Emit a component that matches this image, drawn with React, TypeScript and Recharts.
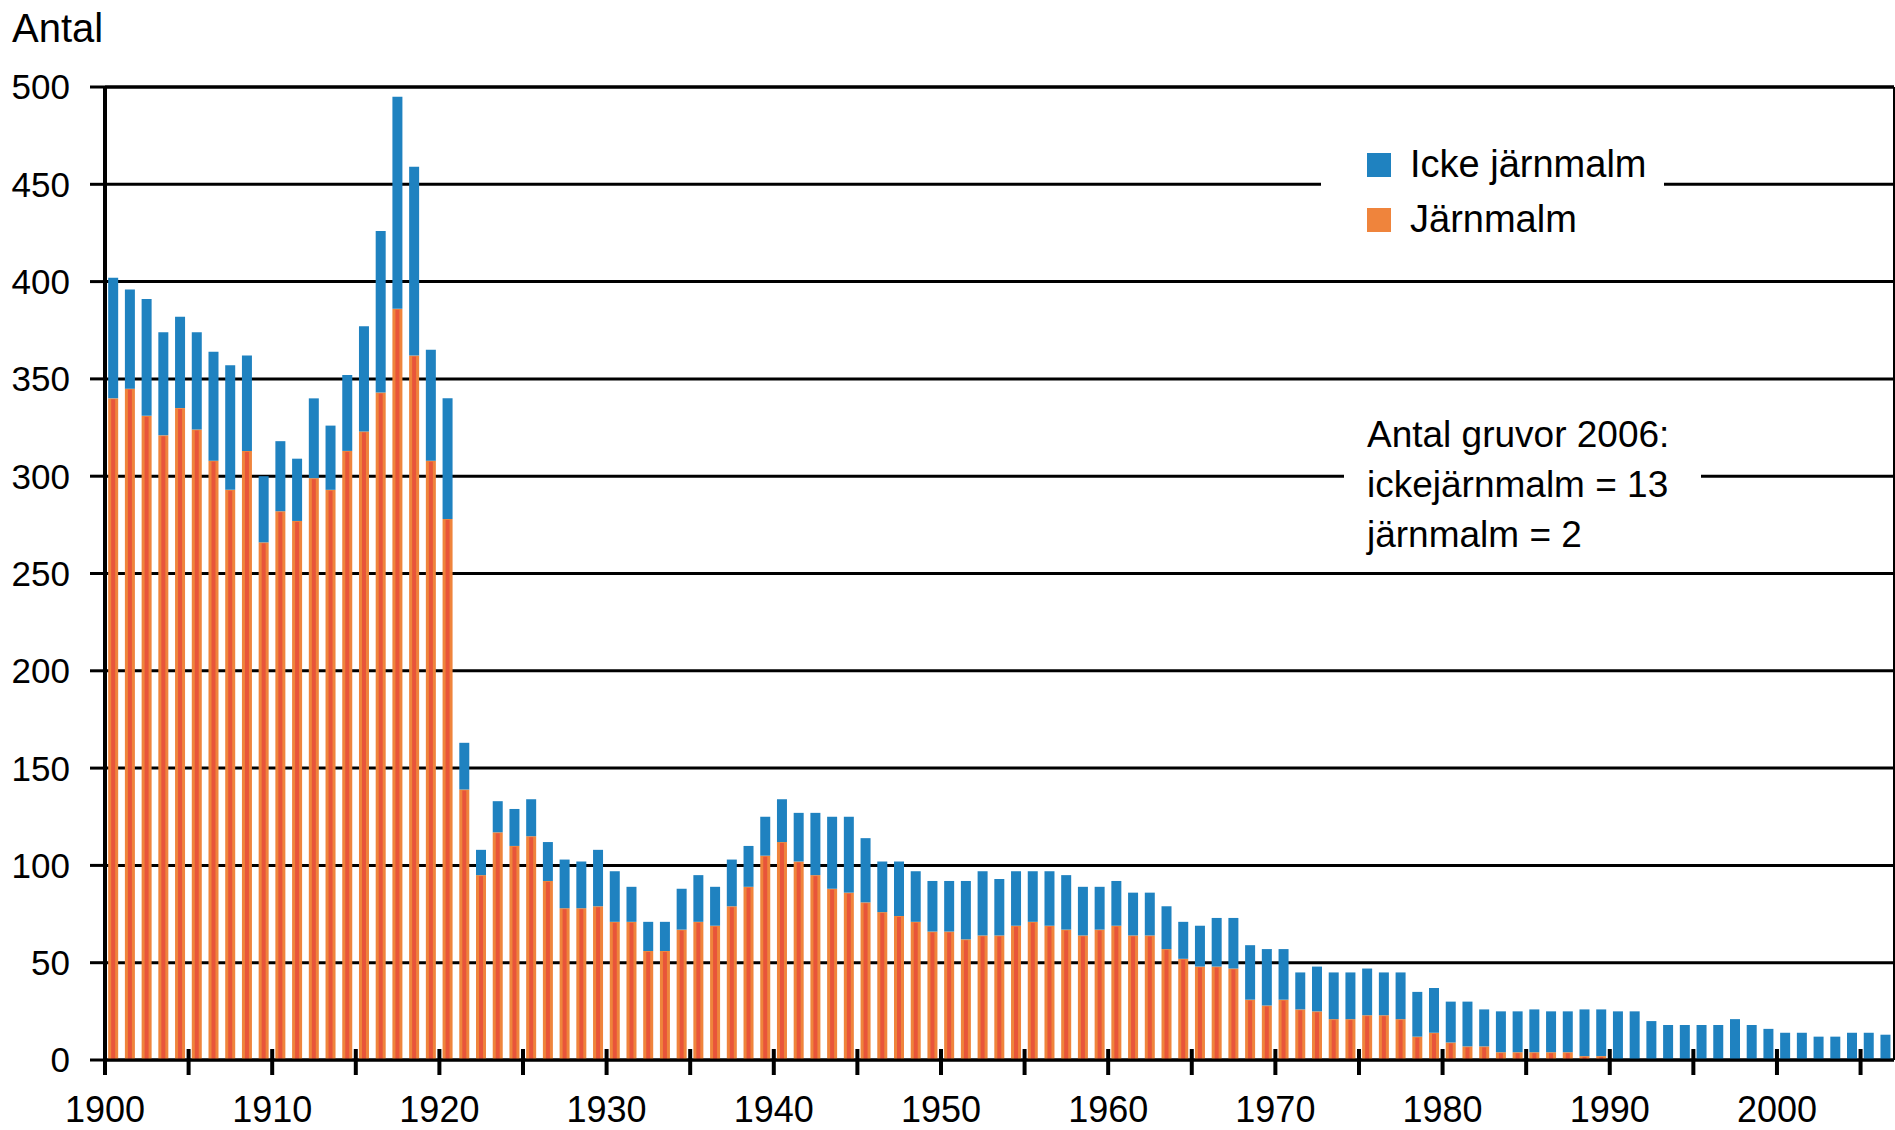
import { Bar, BarChart, CartesianGrid, Legend, ReferenceLine, XAxis, YAxis } from "recharts";

// Antal gruvor per år, 1900–2006
const years: number[] = Array.from({ length: 107 }, (_, i) => 1900 + i);

const ironOre: number[] = [
  340, 345, 331, 321, 335, 324, 308, 293, 313, 266,
  282, 277, 299, 293, 313, 323, 343, 386, 362, 308,
  278, 139, 95, 117, 110, 115, 92, 78, 78, 79,
  71, 71, 56, 56, 67, 71, 69, 79, 89, 105,
  112, 102, 95, 88, 86, 81, 76, 74, 71, 66,
  66, 62, 64, 64, 69, 71, 69, 67, 64, 67,
  69, 64, 64, 57, 52, 48, 48, 47, 31, 28,
  31, 26, 25, 21, 21, 23, 23, 21, 12, 14,
  9, 7, 7, 4, 4, 4, 4, 4, 2, 2,
  0, 0, 0, 0, 0, 0, 0, 0, 0, 0,
  0, 0, 0, 0, 0, 0, 0,
];

const nonIronOre: number[] = [
  62, 51, 60, 53, 47, 50, 56, 64, 49, 34,
  36, 32, 41, 33, 39, 54, 83, 109, 97, 57,
  62, 24, 13, 16, 19, 19, 20, 25, 24, 29,
  26, 18, 15, 15, 21, 24, 20, 24, 21, 20,
  22, 25, 32, 37, 39, 33, 26, 28, 26, 26,
  26, 30, 33, 29, 28, 26, 28, 28, 25, 22,
  23, 22, 22, 22, 19, 21, 25, 26, 28, 29,
  26, 19, 23, 24, 24, 24, 22, 24, 23, 23,
  21, 23, 19, 21, 21, 22, 21, 21, 24, 24,
  25, 25, 20, 18, 18, 18, 18, 21, 18, 16,
  14, 14, 12, 12, 14, 14, 13,
];

const yTicks = [0, 50, 100, 150, 200, 250, 300, 350, 400, 450, 500];
const xTicks = Array.from({ length: 22 }, (_, i) => 1900 + i * 5);

const BLUE = "#1f82c0";
const ORANGE = "#ef843c";
const RED = "#e8553a";
const FONT = "'Liberation Sans', Arial, sans-serif";

const data = years.map((year, i) => ({ year, iron: ironOre[i], nonIron: nonIronOre[i] }));

function IronBar(props: any) {
  const { x, y, width, height } = props;
  if (!height || height <= 0) return null;
  return (
    <g>
      <rect x={x} y={y} width={width} height={height} fill={ORANGE} />
      <rect x={x + 3} y={y + 1} width={Math.max(0, width - 6)} height={Math.max(0, height - 1)} fill={RED} />
    </g>
  );
}

function YearTick(props: any) {
  const { x, y, payload } = props;
  const v = payload.value;
  return (
    <g>
      <line x1={x} x2={x} y1={y - 11} y2={y + 15} stroke="#000" strokeWidth={4} />
      {v % 10 === 0 && (
        <text x={x} y={y + 36} dy="0.71em" textAnchor="middle" fontSize={36} fontFamily={FONT} fill="#000">
          {v}
        </text>
      )}
    </g>
  );
}

function LegendBox() {
  const items = [
    { label: "Icke järnmalm", color: BLUE },
    { label: "Järnmalm", color: ORANGE },
  ];
  return (
    <div style={{ background: "#fff", width: 343, paddingLeft: 46, boxSizing: "border-box" }}>
      {items.map((it) => (
        <div key={it.label} style={{ display: "flex", alignItems: "center", height: 55 }}>
          <span style={{ width: 24, height: 24, background: it.color, display: "inline-block", marginRight: 19 }} />
          <span style={{ fontSize: 38, fontFamily: FONT, color: "#000" }}>{it.label}</span>
        </div>
      ))}
    </div>
  );
}

export default function App() {
  return (
    <div style={{ position: "absolute", left: 0, top: 0, width: 1895, height: 1130, background: "#fff" }}>
      <div style={{ position: "absolute", left: 12, top: 8, fontSize: 40, lineHeight: "40px", fontFamily: FONT }}>
        Antal
      </div>
      <BarChart
        width={1895}
        height={1130}
        data={data}
        margin={{ top: 87, right: 1, bottom: 0, left: 0 }}
        barCategoryGap="19%"
      >
        <CartesianGrid xAxisId="num" vertical={false} stroke="#000" strokeWidth={3} />
        <XAxis
          xAxisId="num"
          dataKey="year"
          type="number"
          domain={[1900, 2007]}
          allowDataOverflow
          ticks={xTicks}
          interval={0}
          height={70}
          tickSize={0}
          tickMargin={0}
          tickLine={false}
          tick={<YearTick />}
          axisLine={{ stroke: "#000", strokeWidth: 3 }}
        />
        <XAxis xAxisId="cat" dataKey="year" type="category" orientation="top" hide />
        <YAxis
          domain={[0, 500]}
          ticks={yTicks}
          interval={0}
          width={105}
          tickSize={15}
          tickMargin={20}
          tickLine={{ stroke: "#000", strokeWidth: 3 }}
          axisLine={{ stroke: "#000", strokeWidth: 4 }}
          tick={{ fontSize: 35, fontFamily: FONT, fill: "#000" }}
        />
        <ReferenceLine xAxisId="num" x={2007} stroke="#000" strokeWidth={2} />
        <ReferenceLine xAxisId="num" y={500} stroke="#000" strokeWidth={3} />
        <Bar xAxisId="cat" dataKey="iron" name="Järnmalm" stackId="a" fill={ORANGE} shape={<IronBar />} isAnimationActive={false} />
        <Bar xAxisId="cat" dataKey="nonIron" name="Icke järnmalm" stackId="a" fill={BLUE} isAnimationActive={false} />
        <Legend
          layout="vertical"
          verticalAlign="middle"
          align="center"
          content={<LegendBox />}
          wrapperStyle={{ position: "absolute", left: 1321, top: 137, width: 343, right: "auto", bottom: "auto" }}
        />
      </BarChart>
      <div
        style={{
          position: "absolute",
          left: 1344,
          top: 410,
          width: 357,
          paddingLeft: 23,
          boxSizing: "border-box",
          background: "#fff",
          fontSize: 37,
          lineHeight: "50px",
          fontFamily: FONT,
          color: "#000",
        }}
      >
        <div>Antal gruvor 2006:</div>
        <div>ickejärnmalm = 13</div>
        <div>järnmalm = 2</div>
      </div>
    </div>
  );
}
